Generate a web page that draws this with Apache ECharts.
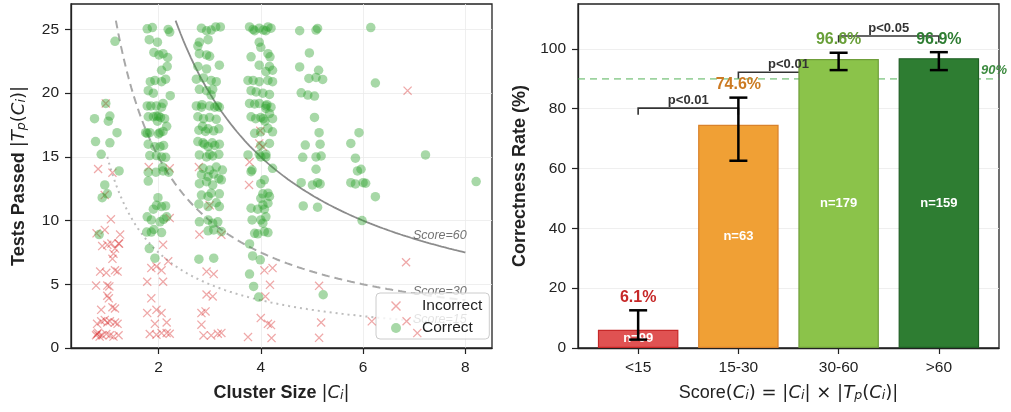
<!DOCTYPE html>
<html><head><meta charset="utf-8">
<script src="https://cdn.jsdelivr.net/npm/echarts@6/dist/echarts.min.js"></script>
<style>html,body{margin:0;padding:0;background:#fff}#c{width:1011px;height:412px}</style>
</head><body><div id="c"></div>
<script>
// ---------------- DATA ----------------
// Left panel: [cluster size (jittered), tests passed (jittered)]
const incorrectPoints = [
 [0.82,14.05],[1.1,13.76],[0.97,19.2],[1.07,10.1],[0.79,9.0],[0.95,9.27],[1.25,8.9],[1.22,8.2],[0.9,8.0],[1.0,8.1],
 [1.08,8.2],[1.15,7.8],[1.12,7.4],[1.1,7.0],[0.86,6.0],[0.98,5.9],[1.15,6.1],[1.2,6.0],[0.78,4.9],[1.0,4.9],
 [1.0,4.1],[1.03,3.9],[0.88,3.0],[1.1,3.2],[1.15,3.1],[0.8,1.9],[0.88,2.1],[0.95,2.2],[1.0,2.0],[1.05,2.1],
 [1.15,2.0],[1.2,1.9],[0.78,1.0],[0.82,1.2],[0.85,0.9],[0.9,1.0],[0.98,1.1],[1.05,1.0],[1.12,0.9],[1.22,1.0],
 [0.95,12.0],[1.04,4.83],[1.23,8.2],[0.8,1.1],
 [1.81,14.2],[2.22,14.1],[2.22,10.2],[2.09,8.1],[1.86,6.27],[1.96,6.4],[2.06,6.1],[2.19,6.8],[1.78,5.2],[2.09,5.2],
 [1.86,3.9],[1.78,2.74],[1.96,3.0],[2.06,2.74],[1.93,1.9],[2.16,2.0],[1.83,1.1],[1.96,1.04],[2.06,1.17],[2.16,1.17],[2.22,1.12],
 [2.79,14.2],[2.8,8.9],[3.23,8.88],[3.0,11.2],[2.94,6.0],[3.08,5.8],[2.94,4.2],[3.06,4.05],[2.84,2.74],[2.92,2.87],
 [2.84,1.83],[2.88,0.99],[3.03,0.99],[3.16,1.12],[3.23,1.18],
 [3.99,17.05],[3.97,16.06],[4.04,15.8],[3.78,14.6],[3.77,12.8],[4.07,6.1],[4.23,6.27],[4.18,4.96],[4.09,4.05],[4.0,2.35],
 [4.14,1.9],[4.2,1.8],[3.75,0.86],[4.21,0.78],
 [5.14,4.88],[5.18,2.0],[5.14,0.8],[6.17,2.09],[6.87,20.2],[6.84,6.73],[7.06,1.17],[6.85,2.1]
];
const correctPoints = [
 [1.15,24.07],[0.97,19.2],[1.05,18.2],[0.75,18.0],[1.02,17.8],[1.19,16.9],[0.77,16.2],[1.05,16.1],[0.88,15.2],[1.23,13.9],
 [0.95,12.8],[1.0,12.1],[0.9,11.8],[0.84,8.9],
 [1.78,25.05],[1.88,25.15],[2.19,25.0],[2.22,24.8],[1.82,24.2],[1.98,24.0],[1.91,23.2],[2.01,23.0],[2.09,23.1],[2.18,22.8],
 [2.06,21.8],[2.17,22.1],[1.84,20.9],[1.93,21.0],[2.14,21.1],[2.06,20.9],[1.8,20.2],[1.9,20.0],[2.23,19.8],[1.78,19.0],
 [1.96,19.0],[2.06,18.9],[2.09,19.2],[1.8,18.15],[1.9,18.15],[2.0,18.2],[2.04,18.1],[2.16,17.4],[1.75,16.9],[1.83,16.9],
 [2.03,16.9],[2.09,17.0],[1.8,16.0],[1.93,15.8],[2.03,15.8],[2.1,15.9],[1.83,15.1],[1.96,15.1],[2.06,15.0],[2.14,14.97],
 [1.8,13.8],[1.95,13.8],[2.09,13.9],[1.8,13.1],[1.99,11.8],[1.96,11.2],[2.06,11.1],[2.14,11.15],[1.9,10.9],[1.78,10.3],
 [1.86,10.05],[2.03,9.9],[2.1,10.1],[2.16,10.3],[1.77,9.1],[1.86,9.1],[1.91,9.3],[2.06,9.06],[1.82,7.8],[1.93,7.05],
 [1.78,16.85],[1.96,18.2],[2.0,16.8],[1.85,19.0],[2.12,18.0],[2.2,13.8],[2.08,14.2],[1.98,17.8],
 [2.84,25.1],[2.94,24.9],[3.03,24.95],[3.12,25.2],[3.21,25.2],[2.97,24.2],[2.8,24.0],[2.77,23.7],[2.8,23.1],[2.94,23.0],
 [3.0,22.9],[3.19,22.2],[2.77,22.1],[2.94,21.9],[2.74,21.1],[2.88,21.2],[3.03,21.0],[3.13,20.9],[2.8,20.3],[2.94,20.2],
 [3.06,20.3],[3.03,19.85],[2.74,19.0],[2.84,18.9],[3.0,19.0],[3.1,18.9],[3.19,18.9],[2.77,18.15],[2.88,18.0],[3.0,18.1],
 [3.13,17.95],[2.79,17.1],[2.86,17.4],[2.97,17.2],[3.08,17.05],[3.18,17.2],[2.77,16.2],[2.87,16.1],[2.97,15.8],[3.1,15.9],
 [3.19,16.0],[2.8,15.15],[2.94,15.0],[3.06,15.07],[3.18,15.2],[2.87,14.1],[3.0,13.97],[3.13,14.2],[3.25,13.97],[2.84,13.6],
 [2.97,13.45],[3.08,13.66],[3.18,13.3],[2.8,12.9],[2.94,13.05],[3.06,12.8],[3.23,13.2],[2.84,12.0],[3.03,12.15],[3.19,12.1],
 [2.97,11.9],[2.79,11.3],[2.97,11.1],[3.13,11.4],[3.19,11.1],[2.8,9.9],[2.97,10.05],[3.16,9.9],[3.06,9.8],[2.97,9.2],
 [3.08,9.27],[3.23,9.14],[2.79,6.97],[3.08,7.05],
 [2.9,16.0],[3.05,16.1],[2.92,17.0],[3.0,15.2],[2.85,19.1],[3.15,19.0],
 [3.78,25.2],[3.88,24.9],[3.97,25.1],[4.05,24.95],[4.14,25.2],[4.2,25.1],[3.97,24.0],[4.0,23.6],[3.81,22.85],[4.14,23.1],
 [4.18,22.85],[3.97,22.2],[4.17,22.1],[4.23,21.8],[4.1,21.7],[3.75,21.0],[3.85,21.0],[3.97,20.9],[4.14,21.0],[4.23,20.9],
 [3.81,20.2],[3.91,20.1],[4.04,20.0],[4.17,19.9],[3.78,19.2],[3.88,19.15],[3.97,19.2],[4.1,19.0],[4.2,18.9],[3.81,18.15],
 [4.0,18.1],[4.1,18.8],[4.17,18.4],[4.23,18.0],[3.88,16.85],[4.0,16.97],[4.14,17.24],[4.23,16.97],[4.0,15.9],[4.17,16.06],
 [3.75,15.15],[3.97,15.2],[4.1,15.0],[3.83,13.97],[4.23,14.1],[3.81,13.84],[4.07,13.2],[4.0,12.9],[4.04,12.1],[4.14,12.15],
 [4.0,11.75],[4.17,11.9],[3.81,10.97],[3.94,10.9],[4.07,10.9],[4.14,11.36],[4.04,11.23],[3.83,10.05],[4.0,10.05],[4.1,10.3],
 [4.04,9.8],[3.88,9.0],[3.94,8.96],[4.07,9.14],[4.14,9.06],[3.78,8.17],[3.84,7.23],[3.99,6.92],[3.78,5.8],[3.86,4.83],
 [3.96,4.0],
 [4.05,18.0],[4.08,17.8],[4.0,15.0],[4.1,15.2],[3.9,18.0],[4.12,19.1],[3.85,25.0],[4.1,24.9],
 [4.76,24.9],[5.08,24.95],[5.11,25.08],[4.95,23.16],[4.76,22.06],[4.94,21.16],[5.08,21.24],[5.21,21.08],[5.13,21.8],[4.79,20.03],
 [4.92,19.85],[5.05,19.77],[5.05,18.1],[5.14,16.9],[4.87,15.93],[5.16,16.0],[4.82,14.97],[5.08,15.0],[5.18,15.07],[5.08,14.03],
 [4.79,12.98],[5.01,12.8],[5.11,12.98],[5.16,12.88],[4.83,11.15],[5.11,11.05],[5.22,4.18],
 [6.15,25.15],[6.24,20.8],[5.92,16.9],[5.76,16.06],[5.85,14.9],[5.89,13.9],[5.96,14.03],[5.76,12.98],[5.85,12.88],[6.0,12.98],
 [6.05,12.93],[6.24,11.88],[5.98,10.0],[7.22,15.15],[8.21,13.06]
];
const scoreThresholds = [15, 30, 60];
const leftXTicks = [2, 4, 6, 8];
const leftYTicks = [0, 5, 10, 15, 20, 25];

// Right panel
const scoreBins = ['<15', '15-30', '30-60', '>60'];
const correctnessRate = [6.1, 74.6, 96.6, 96.9];
const ciLow = [2.8, 62.6, 92.9, 92.9];
const ciHigh = [12.6, 83.7, 98.7, 98.9];
const binCounts = [99, 63, 179, 159];
const sigPairs = [[0, 1], [1, 2], [2, 3]];
const sigLevel = [80.2, 92.2, 104.3];
const sigLabels = ['p<0.01', 'p<0.01', 'p<0.05'];
const targetRate = 90;
const rightYTicks = [0, 20, 40, 60, 80, 100];

// ---------------- STYLE ----------------
const FONT = '"Liberation Sans", Arial, sans-serif';
const MATH = '"DejaVu Sans", sans-serif';
const barColors = ['#e05252', '#f0a035', '#8bc34a', '#2e7d32'];
const barBorders = ['#c62828', '#d9822b', '#6f9e3a', '#1f5f24'];
const labelColors = ['#c62828', '#cc7a22', '#689f38', '#2e7d32'];
const curveStyles = {
  15: {color: '#bdbdbd', type: [2, 4], width: 2},
  30: {color: '#a8a8a8', type: [8, 5], width: 2},
  60: {color: '#8c8c8c', type: 'solid', width: 1.8}
};
const xSymbol = 'path://M0,1L1,0L10,9L9,10Z M9,0L10,1L1,10L0,9Z';
const AX = '#222';

function rich(size) {
  return {
    b: {fontFamily: FONT, fontWeight: 'bold', fontSize: size, color: AX},
    r: {fontFamily: FONT, fontSize: size, color: AX},
    m: {fontFamily: MATH, fontSize: size, color: AX},
    mi: {fontFamily: MATH, fontStyle: 'italic', fontSize: size, color: AX},
    sub: {fontFamily: MATH, fontStyle: 'italic', fontSize: size * 0.7, color: AX, verticalAlign: 'bottom'}
  };
}

// iso-score curves Score = |C| * |T|
const curveSeries = scoreThresholds.map(s => {
  const pts = [];
  const x0 = Math.max(1, s / 25.7);
  for (let x = x0; x < 8; x += 0.05) pts.push([x, s / x]);
  pts.push([8, s / 8]);
  const st = curveStyles[s];
  return {
    type: 'line', xAxisIndex: 0, yAxisIndex: 0, data: pts, showSymbol: false, silent: true,
    lineStyle: {color: st.color, width: st.width, type: st.type}, z: 2, animation: false
  };
});

function axisCommon(extra) {
  return Object.assign({
    axisLine: {show: true, onZero: false, lineStyle: {color: AX, width: 1.3}},
    axisTick: {show: true, length: 6, lineStyle: {color: AX, width: 1.2}},
    axisLabel: {color: AX, fontSize: 15.5, fontFamily: FONT},
    splitLine: {show: true, lineStyle: {color: '#ebebeb', width: 0.8}},
    nameLocation: 'middle'
  }, extra);
}

const option = {
  animation: false,
  backgroundColor: '#fff',
  grid: [
    {left: 71, top: 4, width: 421, height: 344, show: true, borderColor: AX, borderWidth: 1.3, backgroundColor: 'transparent'},
    {left: 578, top: 4, width: 421, height: 344, show: true, borderColor: AX, borderWidth: 1.3, backgroundColor: 'transparent'}
  ],
  legend: {
    orient: 'vertical', left: 376, top: 293,
    padding: [4, 7, 2, 15], itemGap: 4, itemWidth: 10, itemHeight: 10,
    backgroundColor: 'rgba(255,255,255,0.8)', borderColor: '#cccccc', borderWidth: 1, borderRadius: 4,
    textStyle: {fontFamily: FONT, fontSize: 15.5, color: AX, lineHeight: 18, padding: [0, 0, 0, 16]},
    data: [{name: 'Incorrect', icon: xSymbol}, {name: 'Correct', icon: 'circle'}]
  },
  xAxis: [
    axisCommon({
      gridIndex: 0, type: 'value', min: 0.29, max: 8.52, splitNumber: 4,
      axisTick: {show: true, length: 6, lineStyle: {color: AX, width: 1.2}, customValues: leftXTicks},
      axisLabel: {color: AX, fontSize: 15.5, fontFamily: FONT, customValues: leftXTicks, margin: 12},
      name: '{b|Cluster Size }{m||}{mi|C}{sub|i}{m||}', nameGap: 36,
      nameTextStyle: {rich: rich(18)}
    }),
    axisCommon({
      gridIndex: 1, type: 'value', min: -0.6, max: 3.6,
      axisTick: {show: true, length: 6, lineStyle: {color: AX, width: 1.2}, customValues: [0, 1, 2, 3]},
      axisLabel: {color: AX, fontSize: 15.5, fontFamily: FONT, customValues: [0, 1, 2, 3], margin: 12,
        formatter: v => scoreBins[Math.round(v)]},
      splitLine: {show: false},
      name: '{r|Score}{m|(}{mi|C}{sub|i}{m|) = |}{mi|C}{sub|i}{m|| × |}{mi|T}{sub|p}{m|(}{mi|C}{sub|i}{m|)|}', nameGap: 36,
      nameTextStyle: {rich: rich(18)}
    })
  ],
  yAxis: [
    axisCommon({
      gridIndex: 0, type: 'value', min: 0, max: 27, interval: 5,
      axisTick: {show: true, length: 6, lineStyle: {color: AX, width: 1.2}, customValues: leftYTicks},
      axisLabel: {color: AX, fontSize: 15.5, fontFamily: FONT, customValues: leftYTicks, margin: 12},
      name: '{b|Tests Passed }{m||}{mi|T}{sub|p}{m|(}{mi|C}{sub|i}{m|)|}', nameGap: 43,
      nameTextStyle: {rich: rich(18)}
    }),
    axisCommon({
      gridIndex: 1, type: 'value', min: 0, max: 115, interval: 20,
      axisTick: {show: true, length: 6, lineStyle: {color: AX, width: 1.2}, customValues: rightYTicks},
      axisLabel: {color: AX, fontSize: 15.5, fontFamily: FONT, customValues: rightYTicks, margin: 12},
      name: 'Correctness Rate (%)', nameGap: 49,
      nameTextStyle: {fontFamily: FONT, fontWeight: 'bold', fontSize: 18, color: AX}
    })
  ],
  series: [
    ...curveSeries,
    {
      type: 'custom', xAxisIndex: 0, yAxisIndex: 0, z: 3, silent: true,
      data: scoreThresholds.map(s => [7.5, s / 7.5 * 1.1, s]),
      renderItem: (params, api) => {
        const p = api.coord([api.value(0), api.value(1)]);
        return {type: 'text', x: p[0], y: p[1], style: {
          text: 'Score=' + api.value(2), fill: 'rgba(90,90,90,0.85)',
          font: 'italic 12.5px ' + FONT, align: 'center', verticalAlign: 'middle'}};
      }
    },
    {
      name: 'Incorrect', type: 'scatter', xAxisIndex: 0, yAxisIndex: 0, data: incorrectPoints,
      symbol: xSymbol, symbolSize: 9, itemStyle: {color: 'rgba(214,39,40,0.5)'}, z: 4
    },
    {
      name: 'Correct', type: 'scatter', xAxisIndex: 0, yAxisIndex: 0, data: correctPoints,
      symbol: 'circle', symbolSize: 9.5, itemStyle: {color: 'rgba(44,160,44,0.52)'}, z: 4
    },
    // 90% target line
    {
      type: 'line', xAxisIndex: 1, yAxisIndex: 1, data: [[-0.6, targetRate], [3.6, targetRate]],
      showSymbol: false, silent: true, z: 1,
      lineStyle: {color: 'rgba(76,175,80,0.55)', width: 1.8, type: [7, 5]}
    },
    // significance brackets (lines, below bars)
    {
      type: 'custom', xAxisIndex: 1, yAxisIndex: 1, z: 1, silent: true,
      data: sigPairs.map((p, i) => [p[0], p[1], sigLevel[i]]),
      renderItem: (params, api) => {
        const a = api.value(0), b = api.value(1), y = api.value(2);
        const p1 = api.coord([a, y - 2.2]), p2 = api.coord([a, y]), p3 = api.coord([b, y]), p4 = api.coord([b, y - 2.2]);
        return {type: 'polyline', shape: {points: [p1, p2, p3, p4]}, style: {stroke: '#333', lineWidth: 1.6, fill: null}};
      }
    },
    {
      type: 'bar', xAxisIndex: 1, yAxisIndex: 1, barWidth: 80.5, z: 2,
      data: correctnessRate.map((v, i) => ({value: [i, v], itemStyle: {color: barColors[i], borderColor: barBorders[i], borderWidth: 1.2}}))
    },
    // n labels
    {
      type: 'custom', xAxisIndex: 1, yAxisIndex: 1, z: 4, silent: true,
      data: correctnessRate.map((v, i) => [i, v / 2, binCounts[i]]),
      renderItem: (params, api) => {
        const p = api.coord([api.value(0), api.value(1)]);
        return {type: 'text', x: p[0], y: p[1], style: {text: 'n=' + api.value(2), fill: '#fff',
          font: 'bold 13px ' + FONT, align: 'center', verticalAlign: 'middle'}};
      }
    },
    // error bars
    {
      type: 'custom', xAxisIndex: 1, yAxisIndex: 1, z: 5, silent: true,
      data: scoreBins.map((c, i) => [i, ciLow[i], ciHigh[i]]),
      encode: {x: 0, y: [1, 2]},
      renderItem: (params, api) => {
        const x = api.value(0);
        const lo = api.coord([x, api.value(1)]), hi = api.coord([x, api.value(2)]);
        const hw = 9, st = {stroke: '#000', lineWidth: 2.5};
        return {type: 'group', children: [
          {type: 'line', shape: {x1: lo[0], y1: lo[1], x2: hi[0], y2: hi[1]}, style: st},
          {type: 'line', shape: {x1: lo[0] - hw, y1: lo[1], x2: lo[0] + hw, y2: lo[1]}, style: st},
          {type: 'line', shape: {x1: hi[0] - hw, y1: hi[1], x2: hi[0] + hw, y2: hi[1]}, style: st}
        ]};
      }
    },
    // value labels
    {
      type: 'custom', xAxisIndex: 1, yAxisIndex: 1, z: 6, silent: true,
      data: correctnessRate.map((v, i) => [i, ciHigh[i], v]),
      renderItem: (params, api) => {
        const i = params.dataIndex;
        const p = api.coord([api.value(0), api.value(1)]);
        return {type: 'text', x: p[0], y: p[1] - 5, style: {text: api.value(2).toFixed(1) + '%', fill: labelColors[i],
          font: 'bold 16px ' + FONT, align: 'center', verticalAlign: 'bottom'}};
      }
    },
    // significance text
    {
      type: 'custom', xAxisIndex: 1, yAxisIndex: 1, z: 7, silent: true,
      data: sigPairs.map((p, i) => [(p[0] + p[1]) / 2, sigLevel[i]]),
      renderItem: (params, api) => {
        const p = api.coord([api.value(0), api.value(1)]);
        return {type: 'text', x: p[0], y: p[1] - 1, style: {text: sigLabels[params.dataIndex], fill: '#333',
          font: 'bold 13px ' + FONT, align: 'center', verticalAlign: 'bottom'}};
      }
    },
    // 90% label
    {
      type: 'custom', xAxisIndex: 1, yAxisIndex: 1, z: 7, silent: true, clip: false,
      data: [[3.42, targetRate]],
      renderItem: (params, api) => {
        const p = api.coord([api.value(0), api.value(1)]);
        return {type: 'text', x: p[0], y: p[1] - 2, style: {text: targetRate + '%', fill: '#3d8b40',
          font: 'italic bold 13px ' + FONT, align: 'left', verticalAlign: 'bottom'}};
      }
    }
  ]
};

const chart = echarts.init(document.getElementById('c'), null, {renderer: 'canvas'});
chart.setOption(option);
</script>
</body></html>
